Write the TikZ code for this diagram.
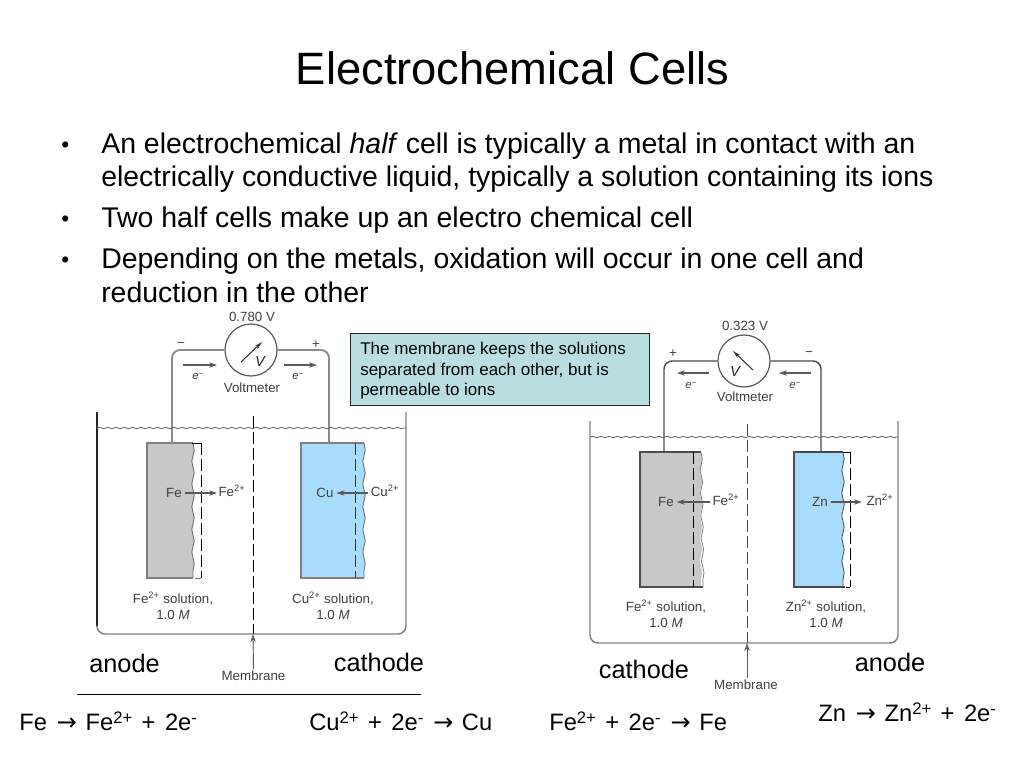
\documentclass[tikz,border=0pt]{standalone}
\usepackage{fontspec}
\setmainfont{Liberation Sans}
\newfontfamily\arrowfont{DejaVu Sans}
\usetikzlibrary{decorations.pathmorphing,arrows.meta}
\newcommand{\fsz}[1]{\fontsize{#1}{#1}\selectfont}
\newcommand{\sups}[1]{\textsuperscript{#1}}
\newcommand{\eqsup}[1]{\raisebox{0.52ex}{\fsz{12.5}#1}}
\newcommand{\rarr}{\hspace{.42em}{\arrowfont\fsz{18}→}\hspace{.36em}}
\newcommand{\eqplus}{\hspace{.12em} + \hspace{.12em}}
\newcommand{\mee}{\textit{e}\raisebox{0.5ex}{\fsz{6}−}}
\tikzset{
  x=0.75pt,y=-0.75pt,
  titletext/.style={anchor=base,inner sep=0,font=\fsz{34}},
  bodytext/.style={anchor=base west,inner sep=0,font=\fsz{21.35}},
  bullettext/.style={anchor=base west,inner sep=0,font=\fsz{17}},
  roletext/.style={anchor=base,inner sep=0,font=\fsz{19}},
  eqtext/.style={anchor=base west,inner sep=0,font=\fsz{17.8}},
  notetext/.style={anchor=base west,inner sep=0,font=\fsz{12.75}},
  small/.style={inner sep=0,text=black!75,font=\fsz{10}},
  tiny/.style={inner sep=0,text=black!75,font=\fsz{8.6}},
  metersym/.style={inner sep=0,text=black!85,font=\fsz{11}\rmfamily\itshape},
  meter/.style={draw=black!65,line width=.9pt,circle,minimum size=39pt,inner sep=0,fill=white},
  leftwire/.style={draw=black!45,line width=1.4pt,rounded corners=6pt},
  rightwire/.style={draw=black!70,line width=1.1pt,rounded corners=6pt},
  tank/.style={draw=black!50,line width=1.1pt,rounded corners=6pt},
  water/.style={draw=black!60,line width=.6pt,decorate,decoration={snake,amplitude=.55pt,segment length=6.2pt}},
  membrane/.style={draw=black,line width=.7pt,dash pattern=on 9pt off 3pt},
  ionplane/.style={draw=black,line width=.65pt,dash pattern=on 9pt off 3pt},
  probe/.style={draw=black!65,line width=.7pt,-{Stealth[length=6pt,width=4pt,open]}},
  flow/.style={draw=black!65,line width=.8pt,-{Stealth[length=6pt,width=4pt]}},
  needle/.style={draw=black!80,line width=.8pt,-{Stealth[length=6pt,width=3pt]}},
  metal/.style={draw=black!50,line width=.9pt},
  edgewave/.style={decorate,decoration={snake,amplitude=.9pt,segment length=17pt}},
}
\definecolor{irongray}{HTML}{C8C8C8}
\definecolor{metalblue}{HTML}{A8DCFA}
\definecolor{notefill}{HTML}{B8DEE1}
\begin{document}
\begin{tikzpicture}
\useasboundingbox (0,0) rectangle (1024,768);
\fill[white] (0,0) rectangle (1024,768);
% heading and bullets
\node[titletext] (title) at (512.5,84) {Electrochemical Cells};
\node[bullettext] (b1) at (61,152) {•};
\node[bodytext] (t1) at (101,153) {An electrochemical \textit{half} cell is typically a metal in contact with an};
\node[bodytext] (t1b) at (101,186) {electrically conductive liquid, typically a solution containing its ions};
\node[bullettext] (b2) at (61,226) {•};
\node[bodytext] (t2) at (101,227) {Two half cells make up an electro chemical cell};
\node[bullettext] (b3) at (61,267) {•};
\node[bodytext] (t3) at (101,268) {Depending on the metals, oxidation will occur in one cell and};
\node[bodytext] (t3b) at (101,302) {reduction in the other};

%% LEFT CELL
\fill[irongray] (147,443) -- (193,443) decorate[edgewave]{-- (193,578)} -- (147,578) -- cycle;
\draw[metal] (193,443) -- (147,443) -- (147,578) -- (193,578);
\draw[black!55,line width=.7pt,edgewave] (193,443) -- (193,578);
\draw[black,line width=.7pt] (192,443) -- (201,443);
\draw[ionplane] (201,443) -- (201,578);
\draw[black!55,line width=.7pt] (195,578) -- (201,578);
\fill[metalblue] (301,443) -- (364,443) decorate[edgewave]{-- (364,578)} -- (301,578) -- cycle;
\draw[metal] (364,443) -- (301,443) -- (301,578) -- (364,578);
\draw[black!55,line width=.7pt,edgewave] (364,443) -- (364,578);
\draw[ionplane,draw=black!80] (355,443) -- (355,578);
\coordinate (feTopL) at (172,443);
\coordinate (cuTopL) at (329,443);
\node[meter] (vmL) at (251,350) {};
\draw[leftwire] (feTopL) |- (vmL.west);
\draw[leftwire] (cuTopL) |- (vmL.east);
\coordinate (ndLa) at (241,362); \coordinate (ndLb) at (262,342);
\draw[needle] (ndLa) -- (ndLb);
\node[metersym] (vsymL) at (260,361) {V};
\node[small] (vvalL) at (252,317) {0.780 V};
\node[small] (minusL) at (181,345) {−};
\node[small] (plusL) at (316,345) {+};
\node[small] (vlabL) at (252,388) {Voltmeter};
\coordinate (eLa) at (183,365); \coordinate (eLb) at (217,365);
\coordinate (eLc) at (284,365); \coordinate (eLd) at (317,365);
\draw[flow] (eLa) -- (eLb);
\draw[flow] (eLc) -- (eLd);
\node[tiny] (eL1) at (198,376) {\mee};
\node[tiny] (eL2) at (298,376) {\mee};
% tank
\coordinate (tL1) at (97,412); \coordinate (tL2) at (406,412);
\draw[tank] (tL1) -- (97,634) -- (406,634) -- (tL2);
\draw[black!85,line width=.9pt] (97,412) -- (97,626);
\draw[water] (97,428) -- (406,428);
\coordinate (mL1) at (253,416); \coordinate (mL2) at (253,634);
\draw[membrane] (mL1) -- (mL2);
\node[small] (mLabL) at (253.5,676) {Membrane};
\draw[probe] ([yshift=1.5pt]mLabL.north) -- (mL2);
% electrode labels
\node[small] (feL) at (174,493) {Fe};
\node[small] (feionL) at (232,491) {Fe\sups{2+}};
\draw[flow] ([xshift=2pt]feL.east) -- (217,493);
\node[small] (cuL) at (325,493) {Cu};
\node[small] (cuionL) at (385,491) {Cu\sups{2+}};
\draw[flow] (368,493) -- ([xshift=2pt]cuL.east);
\node[small,align=center] (solFeL) at (173,606) {Fe\sups{2+} solution,\\[2pt]1.0 \textit{M}};
\node[small,align=center] (solCuL) at (333,606) {Cu\sups{2+} solution,\\[2pt]1.0 \textit{M}};
\node[roletext] (anL) at (124.5,672) {anode};
\node[roletext] (caL) at (379,671) {cathode};
\coordinate (ruleA) at (77,694); \coordinate (ruleB) at (421,694);
\draw[black,line width=.7pt] (ruleA) -- (ruleB);
\node[eqtext] (eq1) at (19,730) {Fe\rarr Fe\eqsup{2+}\eqplus 2e\eqsup{-}};
\node[eqtext] (eq2) at (309,730) {Cu\eqsup{2+}\eqplus 2e\eqsup{-}\rarr Cu};

%% NOTE
\node[draw=black!85,line width=.8pt,fill=notefill,anchor=north west,minimum width=224pt,minimum height=54pt,inner sep=0] (note) at (350,333) {};
\node[notetext] (n1) at (360,354) {The membrane keeps the solutions};
\node[notetext] (n2) at (360,375) {separated from each other, but is};
\node[notetext] (n3) at (360,395) {permeable to ions};

%% RIGHT CELL
\fill[irongray] (640,452) -- (701,452) decorate[edgewave]{-- (701,587)} -- (640,587) -- cycle;
\draw[draw=black!70,line width=.9pt] (701,452) -- (640,452) -- (640,587) -- (703,587);
\draw[black!50,line width=.6pt,edgewave] (701,452) -- (703,587);
\draw[ionplane] (693,452) -- (693,587);
\fill[metalblue] (794,452) -- (843,452) decorate[edgewave]{-- (843,587)} -- (794,587) -- cycle;
\draw[draw=black!70,line width=.9pt] (843,452) -- (794,452) -- (794,587) -- (845,587);
\draw[black!70,line width=.6pt,edgewave] (843,452) -- (843,587);
\draw[black,line width=.7pt] (843,452) -- (851,452);
\draw[ionplane] (850,452) -- (850,587);
\draw[black,line width=.7pt] (846,587) -- (850,587);
\coordinate (feTopR) at (664,452);
\coordinate (znTopR) at (821,452);
\node[meter] (vmR) at (744,361) {};
\draw[rightwire] (feTopR) |- (vmR.west);
\draw[rightwire] (znTopR) |- (vmR.east);
\coordinate (ndRa) at (753,370); \coordinate (ndRb) at (733,351);
\draw[needle] (ndRa) -- (ndRb);
\node[metersym] (vsymR) at (735,371) {V};
\node[small] (vvalR) at (745,326) {0.323 V};
\node[small] (plusR) at (673,354) {+};
\node[small] (minusR) at (809,354) {−};
\node[small] (vlabR) at (745,397) {Voltmeter};
\coordinate (eRa) at (709,373); \coordinate (eRb) at (677,373);
\coordinate (eRc) at (811,373); \coordinate (eRd) at (779,373);
\draw[flow] (eRa) -- (eRb);
\draw[flow] (eRc) -- (eRd);
\node[tiny] (eR1) at (691,385) {\mee};
\node[tiny] (eR2) at (795,385) {\mee};
\coordinate (tR1) at (590,421); \coordinate (tR2) at (898,421);
\draw[tank] (tR1) -- (590,643) -- (898,643) -- (tR2);
\draw[water] (590,437) -- (898,437);
\coordinate (mR1) at (747,424); \coordinate (mR2) at (747,643);
\draw[membrane,draw=black!70] (mR1) -- (mR2);
\node[small] (mLabR) at (746,685) {Membrane};
\draw[probe] ([xshift=.75pt,yshift=1.5pt]mLabR.north) -- (mR2);
\node[small] (feR) at (666,502) {Fe};
\node[small] (feionR) at (726,500) {Fe\sups{2+}};
\draw[flow] (710,502) -- ([xshift=2pt]feR.east);
\node[small] (znR) at (820,502) {Zn};
\node[small] (znionR) at (880,500) {Zn\sups{2+}};
\draw[flow] ([xshift=2pt]znR.east) -- (862,502);
\node[small,align=center] (solFeR) at (666,614) {Fe\sups{2+} solution,\\[2pt]1.0 \textit{M}};
\node[small,align=center] (solZnR) at (826,614) {Zn\sups{2+} solution,\\[2pt]1.0 \textit{M}};
\node[roletext] (caR) at (644,678) {cathode};
\node[roletext] (anR) at (890,671) {anode};
\node[eqtext] (eq3) at (549,730) {Fe\eqsup{2+}\eqplus 2e\eqsup{-}\rarr Fe};
\node[eqtext] (eq4) at (818,721) {Zn\rarr Zn\eqsup{2+}\eqplus 2e\eqsup{-}};
\end{tikzpicture}
\end{document}
